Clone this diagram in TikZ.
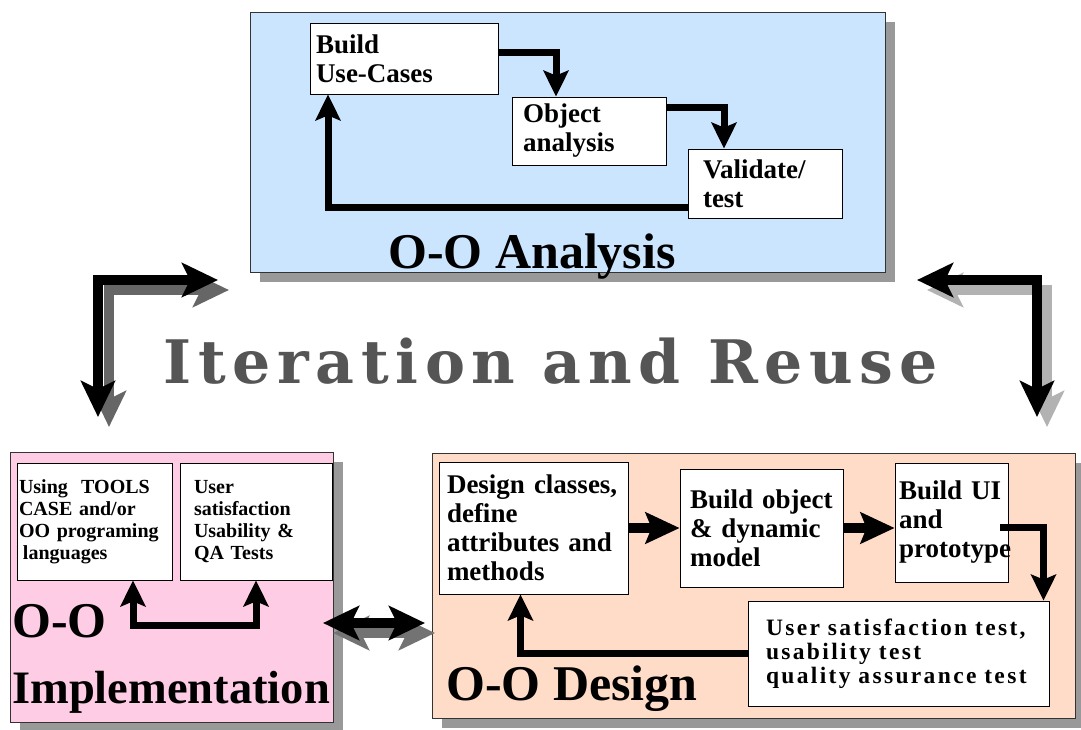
\documentclass[tikz,border=0pt]{standalone}
\usepackage{fontspec}
\setmainfont{Liberation Serif}
\newfontfamily\iterfont[LetterSpace=11]{DejaVu Serif}
\newfontfamily\testfont[LetterSpace=10]{Liberation Serif}
\usetikzlibrary{arrows.meta,calc,shadows}

\definecolor{anafill}{RGB}{204,229,255}
\definecolor{implfill}{RGB}{255,204,229}
\definecolor{desfill}{RGB}{255,220,200}
\definecolor{itergray}{RGB}{85,85,85}

\begin{document}
\begin{tikzpicture}[%
    x=1pt, y=-1pt,              % one unit is one pixel of the sketch, y grows down
    >={Stealth[length=26pt, width=25pt, inset=5pt]}, % default head of the flow lines
    ]
% -------------------------------------------------
% Styles for panels, boxes and connectors
\tikzset{
  panelbox/.style={draw=black!80, line width=1pt, inner sep=0pt,
    drop shadow={shadow xshift=10pt, shadow yshift=-10pt, fill=black!40, opacity=1}},
  box/.style={draw, fill=white, line width=0.8pt, align=left, inner ysep=0pt,
    font=\bfseries\fontsize{27}{29}\selectfont},
  smallbox/.style={box, font=\bfseries\fontsize{20}{22}\selectfont},
  titletext/.style={inner sep=0pt, font=\bfseries\fontsize{50}{60}\selectfont},
  % -------------------------------------------------
  % Connector line styles
  flowline/.style={->, line width=7pt},
  thickflow/.style={->, line width=10pt, >={Stealth[length=34pt, width=31pt, inset=6pt]}},
  bigarrow/.style={<->, line width=10pt, >={Stealth[length=36pt, width=34pt, inset=8pt]}},
}
\useasboundingbox (0,0) rectangle (1081,729);

% -------------------------------------------------
% The three panels
\node [panelbox, fill=anafill, minimum width=635pt, minimum height=260pt] (ana) at (567.5,142) {};
\node [panelbox, fill=implfill, minimum width=323pt, minimum height=270pt] (impl) at (171.5,587) {};
\node [panelbox, fill=desfill, minimum width=643pt, minimum height=265pt] (des) at (753.5,585.5) {};

% Panel titles
\node [titletext, anchor=base] (anatitle) at (532,268) {O-O Analysis};
\node [titletext, anchor=base west] (impltitle) at (12,637) {O-O};
\node [titletext, anchor=base west, font=\bfseries\fontsize{46.5}{50}\selectfont] (impltitleb) at (12,703) {Implementation};
\node [titletext, anchor=base west] (destitle) at (446,700) {O-O Design};

% -------------------------------------------------
% Analysis boxes
\node [box, minimum height=71pt, text width=176pt, inner xsep=6pt] (build) at (404,58.5) {Build\\Use-Cases};
\node [box, minimum height=68pt, text width=132pt, inner xsep=11pt] (obj) at (589,131) {Object\\analysis};
\node [box, minimum height=69pt, text width=124pt, inner xsep=15pt] (val) at (765,183.5) {Validate/\\test};

% Design boxes
\node [box, minimum height=132pt, text width=173pt, inner xsep=8pt] (dcls) at (533.5,528) {Design classes,\\define\\attributes and\\methods};
\node [box, minimum height=118pt, text width=143pt, inner xsep=10pt] (bobj) at (761.5,528) {Build object\\\& dynamic\\model};
\node [box, minimum height=119pt, text width=105pt, inner xsep=4pt] (bui) at (951.5,522.5) {Build UI\\and\\prototype};
\node [box, font=\testfont\bfseries\fontsize{23.5}{24}\selectfont, minimum height=105pt, text width=265pt, inner xsep=18pt] (usat) at (898.5,653.5) {User satisfaction test,\\usability test\\quality assurance test};

% Implementation boxes
\node [smallbox, minimum height=117pt, text width=151pt, inner xsep=2pt] (tool) at (94.5,521.5) {Using~~TOOLS\\CASE and/or\\OO programing\\\hspace{4pt}languages};
\node [smallbox, minimum height=117pt, text width=124pt, inner xsep=14pt] (test) at (256,521.5) {User\\satisfaction\\Usability \&\\QA Tests};

% -------------------------------------------------
% Flow inside the analysis panel
\draw [flowline] ([yshift=6pt]build.east) -| ([xshift=-33pt]obj.north);
\draw [flowline] ([yshift=24pt]obj.east) -| ([xshift=-41pt]val.north);
\draw [flowline] ([yshift=-24pt]val.west) -| ([xshift=-76pt]build.south);

% Flow inside the design panel
\draw [thickflow] (dcls.east) -- (bobj.west);
\draw [thickflow] (bobj.east) -- (bobj.east -| bui.west);
\draw [flowline] ([xshift=-8pt,yshift=-5pt]bui.east) -| ([xshift=145pt]usat.north);
\draw [flowline] (usat.west) -| ([xshift=-13pt]dcls.south);

% Loop inside the implementation panel
\coordinate (ic) at (133,625);
\draw [flowline, <->] (ic |- tool.south) -- (ic) -| (test.south);

% -------------------------------------------------
% Iteration arrows between the panels, each with its shadow
\coordinate (tlh) at (218,280);
\coordinate (tlc) at (98,280);
\coordinate (tlv) at (98,417);
\draw [bigarrow, black!60] ($(tlh)+(11,10)$) -- ($(tlc)+(11,10)$) -- ($(tlv)+(11,10)$);
\draw [bigarrow] (tlh) -- (tlc) -- (tlv);

\coordinate (trh) at (917,280);
\coordinate (trc) at (1037,280);
\coordinate (trv) at (1037,417);
\draw [bigarrow, black!30] ($(trh)+(10,10)$) -- ($(trc)+(10,10)$) -- ($(trv)+(10,10)$);
\draw [bigarrow] (trh) -- (trc) -- (trv);

\coordinate (ml) at (323,623);
\coordinate (mr) at (425,623);
\draw [bigarrow, black!55] ($(ml)+(10,10)$) -- ($(mr)+(10,10)$);
\draw [bigarrow] (ml) -- (mr);

% Central caption
\node [inner sep=0pt, anchor=base, text=itergray, font=\iterfont\bfseries\fontsize{60}{64}\selectfont] (iter) at (551,383) {Iteration and Reuse};

\end{tikzpicture}
\end{document}
